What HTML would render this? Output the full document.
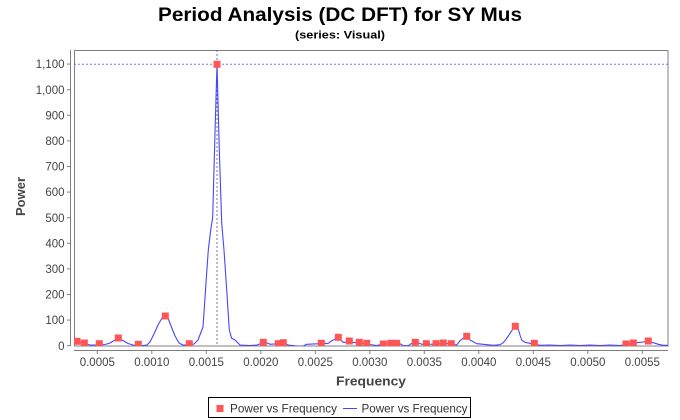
<!DOCTYPE html>
<html>
<head>
<meta charset="utf-8">
<style>
  html, body { margin: 0; padding: 0; background: #ffffff; }
  svg { display: block; }
  text { font-family: "Liberation Sans", "DejaVu Sans", sans-serif; }
</style>
</head>
<body>
<svg width="680" height="420" viewBox="0 0 680 420" xmlns="http://www.w3.org/2000/svg">
  <rect x="0" y="0" width="680" height="420" fill="#ffffff"/>

  <!-- Titles -->
  <text x="340" y="21" text-anchor="middle" font-size="19.5" font-weight="bold" fill="#000" textLength="364" lengthAdjust="spacingAndGlyphs">Period Analysis (DC DFT) for SY Mus</text>
  <text x="340" y="38.5" text-anchor="middle" font-size="11" font-weight="bold" fill="#000" textLength="90" lengthAdjust="spacingAndGlyphs">(series: Visual)</text>

  <defs>
    <clipPath id="plotclip">
      <rect x="74" y="50" width="594" height="296"/>
    </clipPath>
  </defs>

  <!-- Plot area -->
  <rect x="74.5" y="50.5" width="593.5" height="295.5" fill="#ffffff" stroke="#808080" stroke-width="1"/>

  <!-- Y axis -->
  <line x1="70.5" y1="50" x2="70.5" y2="346" stroke="#808080" stroke-width="1"/>
  <g stroke="#808080" stroke-width="1">
    <line x1="67" y1="345.7" x2="70.5" y2="345.7"/>
    <line x1="67" y1="320.1" x2="70.5" y2="320.1"/>
    <line x1="67" y1="294.5" x2="70.5" y2="294.5"/>
    <line x1="67" y1="268.9" x2="70.5" y2="268.9"/>
    <line x1="67" y1="243.3" x2="70.5" y2="243.3"/>
    <line x1="67" y1="217.7" x2="70.5" y2="217.7"/>
    <line x1="67" y1="192.1" x2="70.5" y2="192.1"/>
    <line x1="67" y1="166.5" x2="70.5" y2="166.5"/>
    <line x1="67" y1="140.9" x2="70.5" y2="140.9"/>
    <line x1="67" y1="115.3" x2="70.5" y2="115.3"/>
    <line x1="67" y1="89.7" x2="70.5" y2="89.7"/>
    <line x1="67" y1="64.1" x2="70.5" y2="64.1"/>
  </g>
  <g font-size="11.5" fill="#444444" text-anchor="end">
    <text x="64.5" y="349.8">0</text>
    <text x="64.5" y="324.2">100</text>
    <text x="64.5" y="298.6">200</text>
    <text x="64.5" y="273">300</text>
    <text x="64.5" y="247.4">400</text>
    <text x="64.5" y="221.8">500</text>
    <text x="64.5" y="196.2">600</text>
    <text x="64.5" y="170.6">700</text>
    <text x="64.5" y="145">800</text>
    <text x="64.5" y="119.4">900</text>
    <text x="64.5" y="93.8">1,000</text>
    <text x="64.5" y="68.2">1,100</text>
  </g>
  <text transform="translate(25,196.5) rotate(-90)" text-anchor="middle" font-size="13" font-weight="bold" fill="#444444">Power</text>

  <!-- X axis -->
  <line x1="74" y1="350.5" x2="668" y2="350.5" stroke="#808080" stroke-width="1"/>
  <g stroke="#808080" stroke-width="1">
    <line x1="97.3" y1="350.5" x2="97.3" y2="354"/>
    <line x1="151.8" y1="350.5" x2="151.8" y2="354"/>
    <line x1="206.3" y1="350.5" x2="206.3" y2="354"/>
    <line x1="260.8" y1="350.5" x2="260.8" y2="354"/>
    <line x1="315.3" y1="350.5" x2="315.3" y2="354"/>
    <line x1="369.8" y1="350.5" x2="369.8" y2="354"/>
    <line x1="424.3" y1="350.5" x2="424.3" y2="354"/>
    <line x1="478.8" y1="350.5" x2="478.8" y2="354"/>
    <line x1="533.3" y1="350.5" x2="533.3" y2="354"/>
    <line x1="587.8" y1="350.5" x2="587.8" y2="354"/>
    <line x1="642.3" y1="350.5" x2="642.3" y2="354"/>
  </g>
  <g font-size="11.5" fill="#444444" text-anchor="middle">
    <text x="97.3" y="366">0.0005</text>
    <text x="151.8" y="366">0.0010</text>
    <text x="206.3" y="366">0.0015</text>
    <text x="260.8" y="366">0.0020</text>
    <text x="315.3" y="366">0.0025</text>
    <text x="369.8" y="366">0.0030</text>
    <text x="424.3" y="366">0.0035</text>
    <text x="478.8" y="366">0.0040</text>
    <text x="533.3" y="366">0.0045</text>
    <text x="587.8" y="366">0.0050</text>
    <text x="642.3" y="366">0.0055</text>
  </g>
  <text x="371" y="385.5" text-anchor="middle" font-size="13" font-weight="bold" fill="#444444" textLength="70" lengthAdjust="spacingAndGlyphs">Frequency</text>

  <g clip-path="url(#plotclip)">
    <!-- crosshairs -->
    <line x1="74" y1="64.3" x2="668" y2="64.3" stroke="#5555ff" stroke-width="1" stroke-dasharray="2,2" opacity="0.8"/>
    <line x1="217" y1="50" x2="217" y2="346" stroke="#555599" stroke-width="1" stroke-dasharray="2,2" opacity="0.8"/>

    <!-- curve -->
    <polyline fill="none" stroke="#4646ff" stroke-width="1.1" stroke-linejoin="round" points="
      74,342 77,341.5 80,342.5 84,343.5 90,345 99,345 105,344.5 110,343 115,340 118,338.5 122,340 128,343.5 133,345 138,345.3 143,345.5 147,345 150,342 154,334 158,325 162,318 165,316 168,318 171,326 175,336 179,343 183,345 190,345 194,344 198,340 203,327 206,283 208.3,250 210.7,230 212.7,217 215,133 217,64.3 219.3,150 221.7,223 224,250 226.7,290 229.3,330 231.7,338.3 235,340 240,345 250,345.5 257,345 262,343 266,342.5 270,344.3 278,343.7 283,342.7 288.3,345 296.7,346 303.3,346 306.7,344.3 320,343.7 328.3,343.3 331.7,340.7 338.3,337.7 343.3,342.3 350,342.3 356.7,342.7 366.7,344 373.3,345 376.7,345.7 381.7,344.3 390,343.7 400,343.7 403.3,345.7 408.3,345.7 411.7,343.3 416.7,342.3 421.7,344.3 426.7,344 433.3,344.3 443.3,343.3 451.7,344 456.7,345 460,340.7 463.3,338.3 466.7,336 470,340 476.7,343.7 483.3,344.3 493.3,345.3 500,344.7 503.3,342.7 506.7,338.3 510,333.3 512.7,329.3 515.3,326.7 518.3,329.3 520,335 521.7,340 525,342.3 530,343.3 534.3,344 540,345.3 550,345 560,345.5 570,345 580,345.5 590,345 600,345.5 610,345 620,345.5 626,344.5 630,343.7 636.7,342.7 643.3,342 648.3,341.7 653.3,342.7 658.3,344.3 663.3,345.3 668,345.3"/>

    <!-- markers -->
    <g fill="#ff5555">
      <rect x="73.5" y="337.8" width="7" height="7"/>
      <rect x="80.8" y="339.5" width="7" height="7"/>
      <rect x="95.8" y="340.2" width="7" height="7"/>
      <rect x="114.8" y="334.5" width="7" height="7"/>
      <rect x="134.8" y="340.8" width="7" height="7"/>
      <rect x="161.8" y="312.5" width="7" height="7"/>
      <rect x="185.8" y="340.2" width="7" height="7"/>
      <rect x="213.5" y="60.8" width="7" height="7"/>
      <rect x="259.8" y="338.8" width="7" height="7"/>
      <rect x="274.8" y="340.2" width="7" height="7"/>
      <rect x="279.8" y="339.2" width="7" height="7"/>
      <rect x="317.8" y="339.8" width="7" height="7"/>
      <rect x="334.8" y="333.8" width="7" height="7"/>
      <rect x="345.8" y="337.5" width="7" height="7"/>
      <rect x="355.8" y="338.8" width="7" height="7"/>
      <rect x="363.2" y="339.8" width="7" height="7"/>
      <rect x="379.8" y="340.5" width="7" height="7"/>
      <rect x="387.2" y="339.8" width="7" height="7"/>
      <rect x="393.2" y="339.8" width="7" height="7"/>
      <rect x="411.8" y="338.8" width="7" height="7"/>
      <rect x="422.8" y="340.2" width="7" height="7"/>
      <rect x="432.5" y="340.2" width="7" height="7"/>
      <rect x="439.8" y="339.5" width="7" height="7"/>
      <rect x="447.8" y="340.2" width="7" height="7"/>
      <rect x="463.2" y="332.8" width="7" height="7"/>
      <rect x="511.8" y="322.8" width="7" height="7"/>
      <rect x="530.8" y="339.8" width="7" height="7"/>
      <rect x="622.5" y="340.5" width="7" height="7"/>
      <rect x="629.8" y="339.5" width="7" height="7"/>
      <rect x="644.8" y="337.5" width="7" height="7"/>
    </g>
  </g>

  <!-- Legend -->
  <rect x="208.5" y="397.5" width="262" height="20" fill="#ffffff" stroke="#000000" stroke-width="1"/>
  <rect x="216.5" y="405" width="7" height="7" fill="#ff5555"/>
  <text x="230" y="412.5" font-size="12" fill="#333333" textLength="107" lengthAdjust="spacingAndGlyphs">Power vs Frequency</text>
  <line x1="343" y1="408.5" x2="357" y2="408.5" stroke="#4646ff" stroke-width="1"/>
  <text x="361.5" y="412.5" font-size="12" fill="#333333" textLength="106" lengthAdjust="spacingAndGlyphs">Power vs Frequency</text>
</svg>
</body>
</html>
